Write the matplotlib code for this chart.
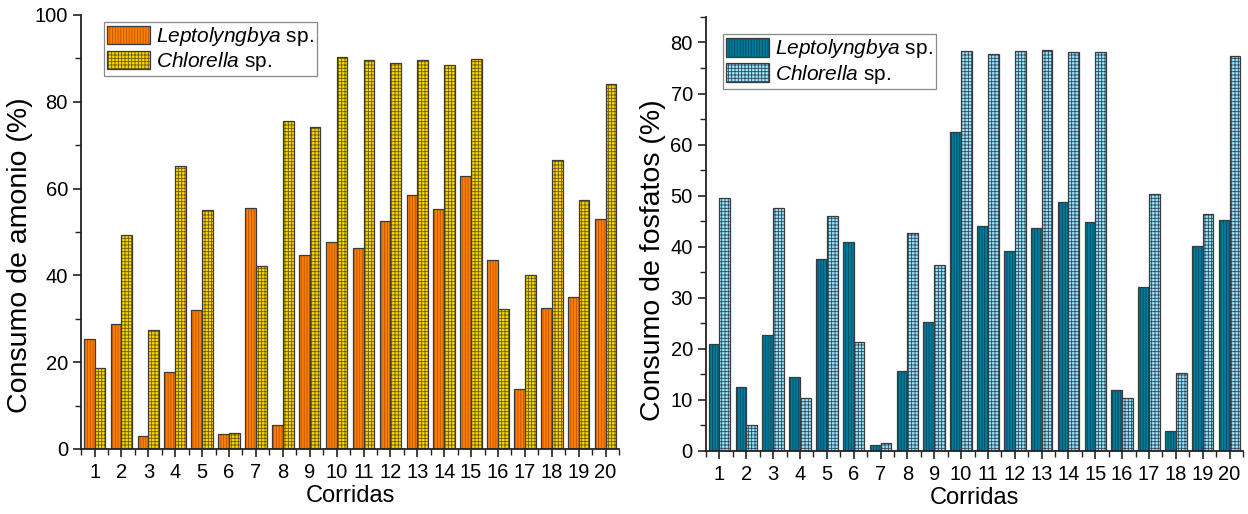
import matplotlib
matplotlib.use("Agg")
import matplotlib.pyplot as plt
from matplotlib.ticker import MultipleLocator, FixedLocator
import numpy as np

plt.rcParams['font.family'] = ['Liberation Sans', 'DejaVu Sans']
plt.rcParams['mathtext.fontset'] = 'custom'
plt.rcParams['mathtext.rm'] = 'Liberation Sans'
plt.rcParams['mathtext.it'] = 'Liberation Sans:italic'
plt.rcParams['hatch.linewidth'] = 0.6

# Data
corridas = list(range(1, 21))

amonio_lepto = [25.3, 28.8, 2.9, 17.8, 32.0, 3.5, 55.6, 5.6, 44.7, 47.8,
                46.4, 52.6, 58.5, 55.3, 63.0, 43.6, 13.8, 32.4, 35.0, 53.0]
amonio_chlor = [18.7, 49.4, 27.4, 65.1, 55.0, 3.7, 42.2, 75.5, 74.3, 90.3,
                89.7, 88.9, 89.6, 88.4, 89.9, 32.2, 40.0, 66.6, 57.3, 84.0]

fosf_lepto = [20.9, 12.6, 22.7, 14.5, 37.6, 40.9, 1.2, 15.6, 25.3, 62.5,
              44.1, 39.2, 43.6, 48.8, 44.9, 11.9, 32.1, 3.9, 40.2, 45.2]
fosf_chlor = [49.5, 5.1, 47.5, 10.3, 46.1, 21.3, 1.5, 42.7, 36.4, 78.3,
              77.8, 78.3, 78.6, 78.1, 78.1, 10.3, 50.4, 15.2, 46.4, 77.4]

labels = [r'$\mathit{Leptolyngbya}$ sp.', r'$\mathit{Chlorella}$ sp.']

fig = plt.figure(figsize=(12.48, 5.14), dpi=100)
ax1 = fig.add_axes([0.065, 0.1265, 0.431, 0.8444])
ax2 = fig.add_axes([0.5657, 0.1226, 0.4303, 0.8444])

x = np.array(corridas)
w = 0.4
edge = '#3a3a3a'


def draw(ax, lepto, chlor, c1, h1c, c2, h2c, ymax, major, minor, leg_anchor):
    b1 = ax.bar(x - w / 2, lepto, w, color=c1, edgecolor=h1c, hatch='||||||', linewidth=0)
    o1 = ax.bar(x - w / 2, lepto, w, fill=False, edgecolor=edge, linewidth=0.9)
    b2 = ax.bar(x + w / 2, chlor, w, color=c2, edgecolor=h2c, hatch='+++++', linewidth=0)
    o2 = ax.bar(x + w / 2, chlor, w, fill=False, edgecolor=edge, linewidth=0.9)

    ax.set_xlim(0.5, 20.5)
    ax.set_ylim(0, ymax)
    ax.set_xticks(corridas)
    ax.xaxis.set_minor_locator(FixedLocator(np.arange(0.5, 21, 1.0)))
    ax.yaxis.set_major_locator(MultipleLocator(major))
    ax.yaxis.set_minor_locator(MultipleLocator(minor))
    ax.tick_params(axis='both', which='major', direction='out', length=6, width=1.2,
                   labelsize=14.5, color='#222222')
    ax.tick_params(axis='both', which='minor', direction='out', length=4, width=1.0,
                   color='#222222')
    ax.tick_params(axis='x', pad=4)
    for s in ['top', 'right']:
        ax.spines[s].set_visible(False)
    for s in ['left', 'bottom']:
        ax.spines[s].set_linewidth(1.3)
        ax.spines[s].set_color('#222222')
    ax.set_xlabel('Corridas', fontsize=17, labelpad=2)

    leg = ax.legend([(b1[0], o1[0]), (b2[0], o2[0])], labels, loc='upper left',
                    bbox_to_anchor=leg_anchor, fontsize=15, frameon=True,
                    fancybox=False, edgecolor='#888888', framealpha=1,
                    handlelength=2.05, handleheight=1.0, handletextpad=0.3,
                    borderpad=0.15, labelspacing=0.1, borderaxespad=0)
    leg.get_frame().set_linewidth(0.9)


draw(ax1, amonio_lepto, amonio_chlor, '#FF7F00', '#B85400', '#FFD700', '#6B5A00',
     100, 20, 10, (0.042, 0.984))
ax1.set_ylabel('Consumo de amonio (%)', fontsize=20.5)
ax1.yaxis.set_label_coords(-0.09, 0.447)

draw(ax2, fosf_lepto, fosf_chlor, '#007B9A', '#004A5E', '#9AE4FF', '#2E4A55',
     85, 10, 5, (0.032, 0.96))
ax2.set_ylabel('Consumo de fosfatos (%)', fontsize=20.5)
ax2.yaxis.set_label_coords(-0.075, 0.44)

fig.savefig('out.png', dpi=100)
